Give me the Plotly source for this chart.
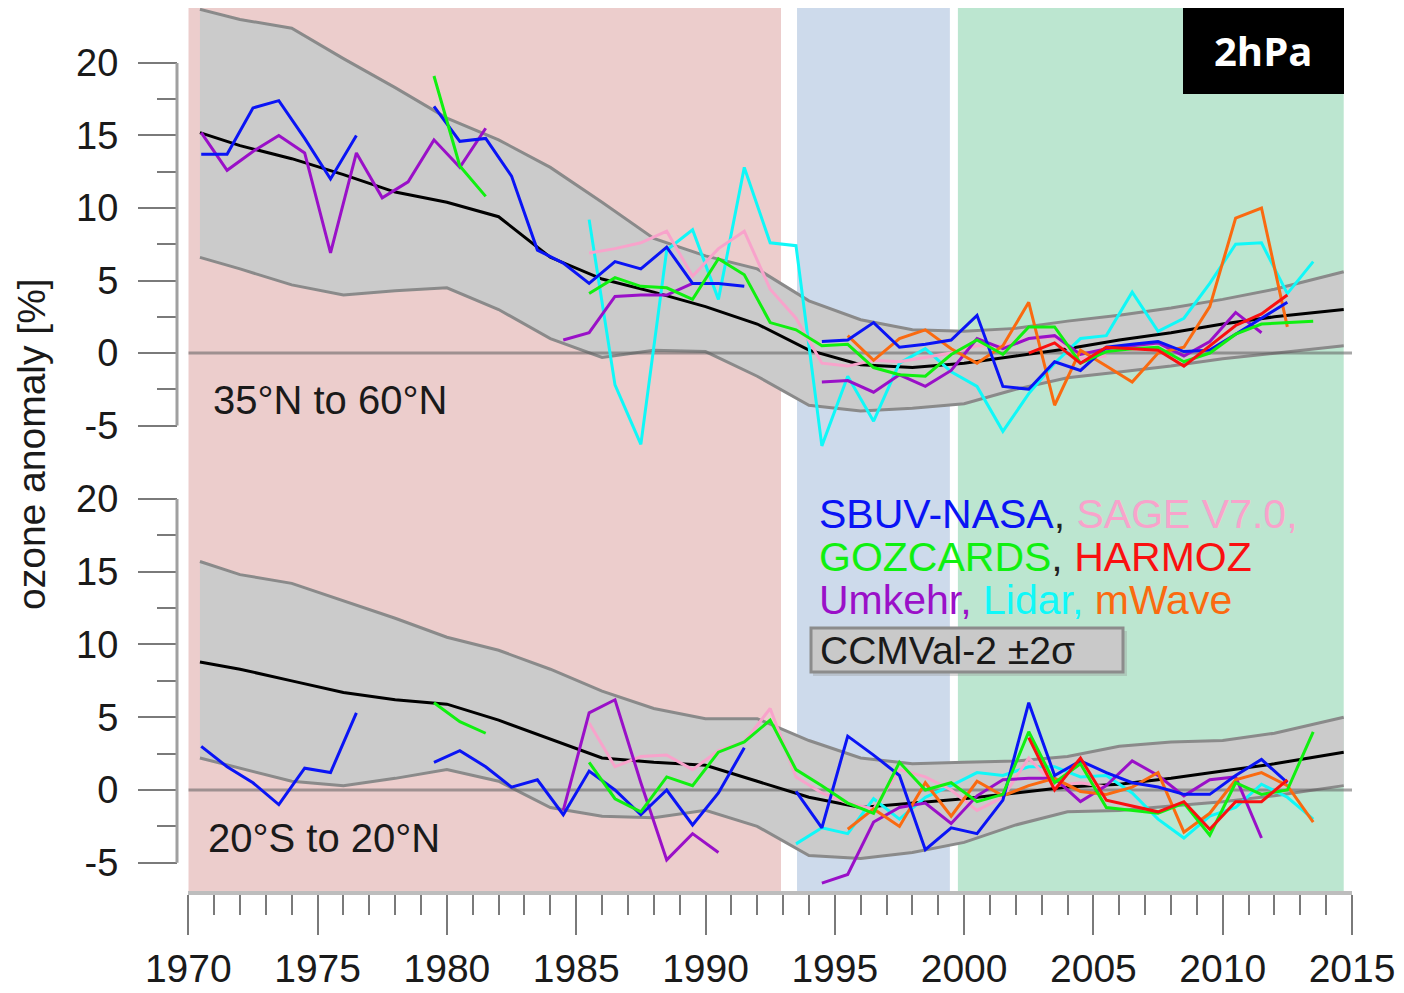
import plotly.graph_objects as go

# the page body has an 8px margin: the figure covers screen pixels 8..1404 x 8..993
OFF = 8
W, H = 1404 - OFF, 993 - OFF

# ---------------- data ----------------
YEARS = [1970, 1971, 1972, 1973, 1974, 1975, 1976, 1977, 1978, 1979,
         1980, 1981, 1982, 1983, 1984, 1985, 1986, 1987, 1988, 1989,
         1990, 1991, 1992, 1993, 1994, 1995, 1996, 1997, 1998, 1999,
         2000, 2001, 2002, 2003, 2004, 2005, 2006, 2007, 2008, 2009,
         2010, 2011, 2012, 2013, 2014]
N = None

# 35N-60N (top panel)
sbuv_top = [13.7, 13.7, 16.9, 17.4, 14.8, 12.0, 15.0, N, N, 17.0,
            14.6, 14.8, 12.2, 7.1, 6.2, 4.8, 6.3, 5.8, 7.3, 4.8,
            4.8, 4.6, N, N, 0.8, 0.9, 2.1, 0.4, 0.6, 0.9,
            2.6, -2.3, -2.5, -0.6, -1.2, 0.4, 0.6, 0.8, 0.1, 0.2,
            1.3, 2.4, 3.5, N, N]
sage_top = [N, N, N, N, N, N, N, N, N, N,
            N, N, N, N, N, 6.9, 7.2, 7.6, 8.4, 5.3,
            7.2, 8.4, 4.4, 2.4, -0.7, -0.9, -0.5, -0.6, -0.3, 0.0,
            0.5, 0.5, 1.0, 1.1, -0.4, -0.2, N, N, N, N,
            N, N, N, N, N]
gozcards_top = [N, N, N, N, N, N, N, N, N, 19.1,
                12.9, 10.8, N, N, N, 4.1, 5.2, 4.6, 4.5, 3.7,
                6.5, 5.4, 2.1, 1.6, 0.5, 0.6, -1.0, -1.5, -1.6, -0.1,
                0.9, -0.1, 1.8, 1.8, -0.7, 0.1, 0.3, 0.4, -0.6, 0.0,
                1.3, 2.0, 2.1, 2.2, N]
harmoz_top = [N, N, N, N, N, N, N, N, N, N,
              N, N, N, N, N, N, N, N, N, N,
              N, N, N, N, N, N, N, N, N, N,
              N, N, 0.0, 0.7, -0.7, 0.4, 0.3, 0.2, -0.9, 0.5,
              1.9, 2.7, 4.0, N, N]
umkehr_top = [15.2, 12.6, 13.9, 15.0, 13.8, 6.9, 13.8, 10.7, 11.8, 14.7,
              12.8, 15.5, N, N, 0.9, 1.4, 3.9, 4.0, 4.0, 4.8,
              N, N, N, N, -2.0, -1.9, -2.7, -1.5, -2.3, -1.2,
              1.0, 0.3, 1.0, 1.2, -0.1, 0.3, 0.5, 0.7, -0.2, 0.8,
              2.8, 1.4, N, N, N]
lidar_top = [N, N, N, N, N, N, N, N, N, N,
             N, N, N, N, N, 9.2, -2.2, -6.3, 7.1, 8.5,
             3.7, 12.8, 7.6, 7.4, -6.4, -1.6, -4.7, -0.7, 0.3, -1.3,
             -2.3, -5.4, -2.8, -0.7, 1.0, 1.2, 4.2, 1.5, 2.4, 4.8,
             7.5, 7.6, 4.1, 6.3, N]
mwave_top = [N, N, N, N, N, N, N, N, N, N,
             N, N, N, N, N, N, N, N, N, N,
             N, N, N, N, N, 1.2, -0.5, 1.0, 1.6, 0.3,
             -0.7, 0.5, 3.5, -3.6, 0.2, -0.9, -2.0, 0.0, 0.4, 3.2,
             9.3, 10.0, 1.8, N, N]

# 20S-20N (bottom panel)
sbuv_bot = [3.0, 1.6, 0.5, -1.0, 1.5, 1.2, 5.3, N, N, 1.9,
            2.7, 1.6, 0.2, 0.7, -1.7, 1.3, 0.0, -1.7, 0.0, -2.4,
            -0.2, 2.9, N, -0.1, -2.6, 3.7, 2.4, 1.0, -4.1, -2.6,
            -3.0, -0.7, 6.0, 1.0, 2.0, 1.2, 0.5, 0.2, -0.3, -0.3,
            1.0, 2.1, 0.5, N, N]
sage_bot = [N, N, N, N, N, N, N, N, N, N,
            N, N, N, N, N, 4.6, 1.6, 2.3, 2.4, 1.4,
            2.7, 3.3, 5.6, 0.9, -0.2, -0.9, -1.3, 1.4, 0.9, 0.0,
            -1.4, -0.5, 2.2, 0.3, 0.5, 0.2, N, N, N, N,
            N, N, N, N, N]
gozcards_bot = [N, N, N, N, N, N, N, N, N, 6.0,
                4.7, 3.9, N, N, N, 1.9, -0.6, -1.5, 0.9, 0.3,
                2.6, 3.3, 4.8, 1.4, 0.3, -0.9, -1.6, 1.9, 0.0, 0.5,
                -0.8, -0.3, 4.0, 0.5, 1.8, -1.2, -1.4, -1.6, -0.9, -3.1,
                0.5, -0.3, 0.0, 4.0, N]
harmoz_bot = [N, N, N, N, N, N, N, N, N, N,
              N, N, N, N, N, N, N, N, N, N,
              N, N, N, N, N, N, N, N, N, N,
              N, N, 3.6, 0.0, 2.2, -0.7, -1.1, -1.5, -0.8, -2.7,
              -0.8, -0.8, 0.7, N, N]
umkehr_bot = [N, N, N, N, N, N, N, N, N, N,
              N, N, N, N, -1.4, 5.3, 6.2, 0.5, -4.8, -3.0,
              -4.3, N, N, N, -6.4, -5.8, -2.2, -1.2, -0.9, -2.3,
              -0.4, 0.7, 0.8, 0.8, -0.8, 0.3, 2.0, 1.0, -0.4, 0.7,
              0.9, -3.3, N, N, N]
lidar_bot = [N, N, N, N, N, N, N, N, N, N,
             N, N, N, N, N, N, N, N, N, N,
             N, N, N, -3.7, -2.6, -3.0, -0.6, -2.0, -0.5, 0.3,
             1.2, 1.0, 1.6, 1.6, 0.9, 1.0, -0.2, -2.0, -3.3, -1.8,
             -1.2, 0.4, -0.5, -2.0, N]
mwave_bot = [N, N, N, N, N, N, N, N, N, N,
             N, N, N, N, N, N, N, N, N, N,
             N, N, N, N, N, -2.7, -1.3, -2.5, 0.5, -1.8,
             0.6, -0.4, 0.3, 0.8, -0.1, -0.3, 0.2, 1.2, -2.9, -1.6,
             0.7, 1.2, 0.3, -2.2, N]

# CCMVal-2 multi-model mean and +-2 sigma envelope
BAND_YEARS = [1970.45, 1972, 1974, 1976, 1978, 1980, 1982, 1984, 1986, 1988,
              1990, 1992, 1994, 1996, 1998, 2000, 2002, 2004, 2006, 2008,
              2010, 2012, 2014.68]
ccm_top_hi = [23.7, 23.0, 22.4, 20.3, 18.3, 16.2, 14.7, 12.8, 10.4, 7.9,
              6.7, 5.8, 3.6, 2.3, 1.6, 1.5, 1.7, 2.2, 2.6, 3.1,
              3.7, 4.4, 5.6]
ccm_top_lo = [6.6, 5.8, 4.7, 4.0, 4.3, 4.5, 3.0, 1.0, -0.3, 0.2,
              0.1, -1.6, -3.6, -4.0, -3.8, -3.5, -2.5, -1.7, -1.3, -0.9,
              -0.4, 0.0, 0.5]
ccm_top_mean = [15.2, 14.3, 13.4, 12.3, 11.1, 10.4, 9.4, 6.6, 5.1, 4.2,
                3.2, 2.0, 0.2, -0.8, -1.0, -0.7, -0.2, 0.3, 0.9, 1.4,
                2.0, 2.5, 3.0]
ccm_bot_hi = [15.7, 14.8, 14.2, 13.0, 11.8, 10.5, 9.6, 8.3, 6.8, 5.6,
              4.9, 4.9, 3.4, 2.2, 1.8, 1.9, 2.0, 2.3, 3.0, 3.3,
              3.4, 3.9, 5.0]
ccm_bot_lo = [2.2, 1.5, 0.6, 0.3, 0.8, 1.4, 0.6, -1.2, -1.8, -1.9,
              -1.4, -2.5, -4.5, -4.7, -4.3, -3.6, -2.4, -1.5, -1.4, -1.1,
              -0.8, -0.4, 0.3]
ccm_bot_mean = [8.8, 8.3, 7.5, 6.7, 6.2, 5.9, 4.8, 3.5, 2.2, 1.9,
                1.7, 0.6, -0.5, -1.2, -0.9, -0.6, -0.2, 0.2, 0.4, 0.8,
                1.3, 1.8, 2.6]

# periods shaded in background
PERIODS = [(1970.0, 1992.92, '#ECCDCC'),
           (1993.54, 1999.45, '#CDDAEB'),
           (1999.76, 2014.68, '#BCE6D0')]

X_TICKS = [1970, 1975, 1980, 1985, 1990, 1995, 2000, 2005, 2010, 2015]
Y_TICKS = [-5, 0, 5, 10, 15, 20]
Y_TICKTEXT = ['-5', '0', '5', '10', '15', '20']
Y_MINOR = [-2.5, 2.5, 7.5, 12.5, 17.5]

SERIES = [('SBUV-NASA', '#0A14F5'), ('SAGE V7.0', '#F8A3CB'),
          ('GOZCARDS', '#10F010'), ('HARMOZ', '#FA1010'),
          ('Umkehr', '#9A10C8'), ('Lidar', '#10F8F8'), ('mWave', '#FA6A10')]
TOP = [sbuv_top, sage_top, gozcards_top, harmoz_top, umkehr_top, lidar_top, mwave_top]
BOT = [sbuv_bot, sage_bot, gozcards_bot, harmoz_bot, umkehr_bot, lidar_bot, mwave_bot]
# draw order (back to front)
ORDER = [5, 1, 4, 6, 0, 2, 3]

# ---------------- figure ----------------
def px(x):
    return (x - OFF) / W

def py(y):
    return 1 - (y - OFF) / H

FONT = 'Liberation Sans, Arial, sans-serif'

fig = go.Figure()
xmid = [y + 0.5 for y in YEARS]

for yax, hi, lo, mean, data in [('y', ccm_top_hi, ccm_top_lo, ccm_top_mean, TOP),
                                 ('y2', ccm_bot_hi, ccm_bot_lo, ccm_bot_mean, BOT)]:
    fig.add_trace(go.Scatter(x=BAND_YEARS, y=lo, yaxis=yax, mode='lines',
                             line=dict(color='#8A8A8A', width=3), hoverinfo='skip'))
    fig.add_trace(go.Scatter(x=BAND_YEARS, y=hi, yaxis=yax, mode='lines', fill='tonexty',
                             fillcolor='rgb(203,203,203)',
                             line=dict(color='#8A8A8A', width=3), hoverinfo='skip'))
    fig.add_trace(go.Scatter(x=[1970, 2015], y=[0, 0], yaxis=yax, mode='lines',
                             line=dict(color='rgba(95,95,95,0.55)', width=3), hoverinfo='skip'))
    fig.add_trace(go.Scatter(x=BAND_YEARS, y=mean, yaxis=yax, mode='lines',
                             line=dict(color='#000000', width=3), hoverinfo='skip'))
    for i in ORDER:
        fig.add_trace(go.Scatter(x=xmid, y=data[i], yaxis=yax, mode='lines',
                                 name=SERIES[i][0], connectgaps=False,
                                 line=dict(color=SERIES[i][1], width=3)))

shapes = []
for x0, x1, c in PERIODS:
    shapes.append(dict(type='rect', xref='x', yref='paper', x0=x0, x1=x1,
                       y0=py(891), y1=py(8), fillcolor=c, line=dict(width=0), layer='below'))
# y axis spines (only between -5 and 20)
for yr in ['y', 'y2']:
    shapes.append(dict(type='line', xref='paper', yref=yr, x0=px(177), x1=px(177),
                       y0=-5, y1=20, line=dict(color='#A0A0A0', width=3)))
# 2hPa box
shapes.append(dict(type='rect', xref='paper', yref='paper', x0=px(1183), x1=px(1344),
                   y0=py(94), y1=py(8), fillcolor='black', line=dict(width=0)))
# CCMVal legend box (shadow + box)
shapes.append(dict(type='rect', xref='paper', yref='paper', x0=px(813), x1=px(1127),
                   y0=py(676), y1=py(631), fillcolor='rgba(150,150,150,0.35)', line=dict(width=0)))
shapes.append(dict(type='rect', xref='paper', yref='paper', x0=px(811), x1=px(1123),
                   y0=py(672), y1=py(628), fillcolor='#C9C9C9',
                   line=dict(color='#8C8C8C', width=3)))

annotations = [
    dict(text='<b>2hPa</b>', x=px(1263), y=py(50), xref='paper', yref='paper', showarrow=False,
         font=dict(family='Open Sans, Noto Sans, sans-serif', size=40, color='white'),
         xanchor='center', yanchor='middle'),
    dict(text='35°N to 60°N', x=px(211), y=py(400), xref='paper', yref='paper', showarrow=False,
         font=dict(family=FONT, size=40, color='#1A1A1A'), xanchor='left', yanchor='middle'),
    dict(text='20°S to 20°N', x=px(206), y=py(838), xref='paper', yref='paper', showarrow=False,
         font=dict(family=FONT, size=40, color='#1A1A1A'), xanchor='left', yanchor='middle'),
    dict(text='ozone anomaly [%]', x=px(32), y=py(444), xref='paper', yref='paper',
         showarrow=False, textangle=-90,
         font=dict(family=FONT, size=39, color='#1A1A1A'), xanchor='center', yanchor='middle'),
    dict(text='CCMVal-2 ±2σ', x=px(818), y=py(650), xref='paper', yref='paper', showarrow=False,
         font=dict(family=FONT, size=39, color='#1A1A1A'), xanchor='left', yanchor='middle'),
]

def span(txt, col):
    return f"<span style='color:{col}'>{txt}</span>"

c = dict(SERIES)
leg_lines = [
    span('SBUV-NASA', c['SBUV-NASA']) + span(', ', '#222') + span('SAGE V7.0,', c['SAGE V7.0']),
    span('GOZCARDS', c['GOZCARDS']) + span(', ', '#222') + span('HARMOZ', c['HARMOZ']),
    span('Umkehr', c['Umkehr']) + span(', ', c['Umkehr']) + span('Lidar, ', c['Lidar'])
    + span('mWave', c['mWave']),
]
for k, t in enumerate(leg_lines):
    annotations.append(dict(text=t, x=px(817), y=py(514 + 43 * k), xref='paper', yref='paper',
                            showarrow=False, font=dict(family=FONT, size=41),
                            xanchor='left', yanchor='middle'))

yaxis_common = dict(anchor='free', position=px(177), side='left', showgrid=False,
                    automargin=False,
                    zeroline=False, showline=False, tickvals=Y_TICKS, ticktext=Y_TICKTEXT,
                    ticks='outside', ticklen=39, tickwidth=2, tickcolor='#7A7A7A',
                    ticklabelstandoff=12,
                    tickfont=dict(family=FONT, size=38, color='#1A1A1A'),
                    minor=dict(tickvals=Y_MINOR, ticks='outside', ticklen=20, tickwidth=2,
                               tickcolor='#7A7A7A'))

fig.update_layout(
    width=W, height=H, margin=dict(l=0, r=0, t=0, b=0, pad=0, autoexpand=False),
    paper_bgcolor='white', plot_bgcolor='white', showlegend=False,
    xaxis=dict(domain=[px(188.3), px(1352)], range=[1970, 2015], anchor='free',
               position=py(893), showgrid=False, zeroline=False, automargin=False,
               showline=True, linecolor='#BDBDBD', linewidth=4,
               tickvals=X_TICKS, ticks='outside', ticklen=40, tickwidth=2, tickcolor='#7A7A7A',
               ticklabelstandoff=0,
               tickfont=dict(family=FONT, size=39, color='#1A1A1A'),
               minor=dict(dtick=1, ticks='outside', ticklen=20, tickwidth=2, tickcolor='#7A7A7A')),
    yaxis=dict(domain=[py(455), py(8)], range=[-7.03, 23.79], **yaxis_common),
    yaxis2=dict(domain=[py(891), py(455)], range=[-6.94, 23.02], **yaxis_common),
    shapes=shapes, annotations=annotations,
)

fig.write_html('out.html')
